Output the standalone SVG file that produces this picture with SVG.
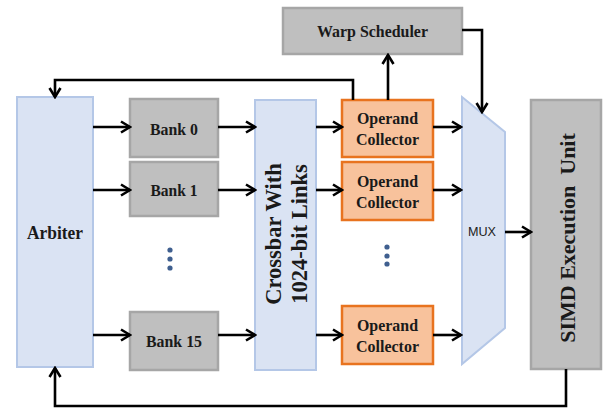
<svg xmlns="http://www.w3.org/2000/svg" width="603" height="409" viewBox="0 0 603 409">
  <defs>
    <marker id="arrow" markerUnits="userSpaceOnUse" markerWidth="14" markerHeight="14" viewBox="0 0 14 14" refX="12" refY="7" orient="auto">
      <path d="M3,1.5 L12,7 L3,12.5" fill="none" stroke="#000" stroke-width="2.6" stroke-linejoin="miter"/>
    </marker>
  </defs>
  <style>
    .blue { fill: #dae3f3; stroke: #b4c7e7; stroke-width: 2; }
    .gray { fill: #bfbfbf; stroke: #a6a6a6; stroke-width: 2.5; }
    .orange { fill: #f8c29c; stroke: #e8731f; stroke-width: 2.5; }
    .lbl { font-family: "Liberation Serif", "Times New Roman", serif; font-weight: bold; fill: #1a1a1a; text-anchor: middle; }
    .wire { fill: none; stroke: #000; stroke-width: 2.6; }
    .dot { fill: #3f5f8f; }
  </style>

  <rect width="603" height="409" fill="#fff"/>

  <g id="arbiter">
    <rect class="blue" x="17" y="97" width="76" height="270"/>
    <text class="lbl" x="55" y="239" font-size="18.5" textLength="56" lengthAdjust="spacingAndGlyphs">Arbiter</text>
  </g>

  <g id="bank0">
    <rect class="gray" x="130" y="99" width="88" height="58"/>
    <text class="lbl" x="174" y="135" font-size="17.5" textLength="48" lengthAdjust="spacingAndGlyphs">Bank 0</text>
  </g>
  <g id="bank1">
    <rect class="gray" x="130" y="162" width="88" height="54"/>
    <text class="lbl" x="174" y="196" font-size="17.5" textLength="47" lengthAdjust="spacingAndGlyphs">Bank 1</text>
  </g>
  <g id="bank-dots">
    <circle class="dot" cx="170" cy="250" r="2.6"/>
    <circle class="dot" cx="170" cy="259" r="2.6"/>
    <circle class="dot" cx="170" cy="268" r="2.6"/>
  </g>
  <g id="bank15">
    <rect class="gray" x="130" y="312" width="88" height="58"/>
    <text class="lbl" x="174" y="347" font-size="17.5" textLength="56" lengthAdjust="spacingAndGlyphs">Bank 15</text>
  </g>

  <g id="crossbar">
    <rect class="blue" x="255" y="100" width="61" height="270"/>
    <g transform="translate(286,234) rotate(-90)">
      <text class="lbl" x="0" y="-5" font-size="22.5">Crossbar With</text>
      <text class="lbl" x="0" y="21" font-size="22.5">1024-bit Links</text>
    </g>
  </g>

  <g id="collector0">
    <rect class="orange" x="342" y="100" width="91" height="57"/>
    <text class="lbl" x="387.5" y="124" font-size="17.5" textLength="61" lengthAdjust="spacingAndGlyphs">Operand</text>
    <text class="lbl" x="387.5" y="145" font-size="17.5" textLength="63" lengthAdjust="spacingAndGlyphs">Collector</text>
  </g>
  <g id="collector1">
    <rect class="orange" x="342" y="162" width="91" height="58"/>
    <text class="lbl" x="387.5" y="187" font-size="17.5" textLength="61" lengthAdjust="spacingAndGlyphs">Operand</text>
    <text class="lbl" x="387.5" y="208" font-size="17.5" textLength="63" lengthAdjust="spacingAndGlyphs">Collector</text>
  </g>
  <g id="collector-dots">
    <circle class="dot" cx="387" cy="247" r="2.6"/>
    <circle class="dot" cx="387" cy="256" r="2.6"/>
    <circle class="dot" cx="387" cy="264" r="2.6"/>
  </g>
  <g id="collector15">
    <rect class="orange" x="342" y="306" width="91" height="58"/>
    <text class="lbl" x="387.5" y="331" font-size="17.5" textLength="61" lengthAdjust="spacingAndGlyphs">Operand</text>
    <text class="lbl" x="387.5" y="352" font-size="17.5" textLength="63" lengthAdjust="spacingAndGlyphs">Collector</text>
  </g>

  <g id="warp-scheduler">
    <rect class="gray" x="283" y="8" width="179" height="46"/>
    <text class="lbl" x="372.5" y="37" font-size="17.5" textLength="111" lengthAdjust="spacingAndGlyphs">Warp Scheduler</text>
  </g>

  <g id="mux">
    <polygon class="blue" points="462,97 505,132 505,328 462,364"/>
    <text x="482" y="236" font-family="'Liberation Sans', Arial, sans-serif" font-size="13.5" fill="#222" text-anchor="middle" textLength="28" lengthAdjust="spacingAndGlyphs">MUX</text>
  </g>

  <g id="simd-unit">
    <rect class="gray" x="531" y="100" width="70" height="269"/>
    <text class="lbl" transform="translate(575,238) rotate(-90)" x="0" y="0" font-size="22" xml:space="preserve">SIMD Execution  Unit</text>
  </g>

  <g id="connectors">
    <line class="wire" x1="93" y1="127" x2="130" y2="127" marker-end="url(#arrow)"/>
    <line class="wire" x1="93" y1="190" x2="130" y2="190" marker-end="url(#arrow)"/>
    <line class="wire" x1="93" y1="335" x2="130" y2="335" marker-end="url(#arrow)"/>

    <line class="wire" x1="218" y1="127" x2="255" y2="127" marker-end="url(#arrow)"/>
    <line class="wire" x1="218" y1="190" x2="255" y2="190" marker-end="url(#arrow)"/>
    <line class="wire" x1="218" y1="335" x2="255" y2="335" marker-end="url(#arrow)"/>

    <line class="wire" x1="316" y1="127" x2="342" y2="127" marker-end="url(#arrow)"/>
    <line class="wire" x1="316" y1="190" x2="342" y2="190" marker-end="url(#arrow)"/>
    <line class="wire" x1="316" y1="335" x2="342" y2="335" marker-end="url(#arrow)"/>

    <line class="wire" x1="433" y1="127" x2="461" y2="127" marker-end="url(#arrow)"/>
    <line class="wire" x1="433" y1="190" x2="461" y2="190" marker-end="url(#arrow)"/>
    <line class="wire" x1="433" y1="335" x2="461" y2="335" marker-end="url(#arrow)"/>

    <line class="wire" x1="505" y1="232" x2="531" y2="232" marker-end="url(#arrow)"/>

    <line class="wire" x1="388" y1="100" x2="388" y2="55" marker-end="url(#arrow)"/>
    <polyline class="wire" points="462,30 482,30 482,112" marker-end="url(#arrow)"/>
    <polyline class="wire" points="353,100 353,80 55,80 55,97" marker-end="url(#arrow)"/>
    <polyline class="wire" points="566,369 566,406 55,406 55,368" marker-end="url(#arrow)"/>
  </g>
</svg>
